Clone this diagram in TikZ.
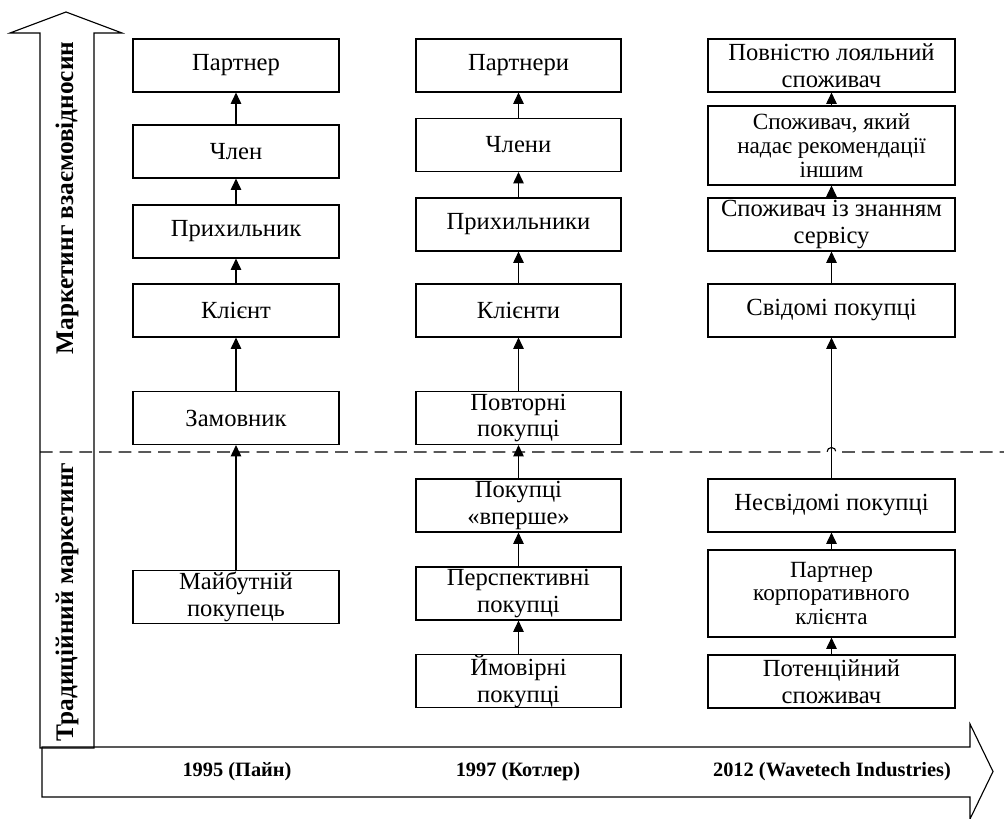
\documentclass[tikz,border=0pt]{standalone}
\usepackage{fontspec}
\setmainfont{Liberation Serif}
\usetikzlibrary{arrows.meta}

\begin{document}
\begin{tikzpicture}[x=0.25mm, y=-0.25mm, line width=0.8pt,
	box/.style={draw, rectangle, align=center, inner sep=0pt, minimum height=13.25mm, font=\fontsize{17.5}{19}\selectfont},
	colA/.style={box, minimum width=51.5mm},
	colB/.style={box, minimum width=51.25mm},
	colC/.style={box, minimum width=61.75mm},
	tall/.style={minimum height=#1mm, font=\fontsize{16.5}{17}\selectfont},
	arr/.style={-{Triangle[length=2.8mm,width=2.6mm]}},
	side/.style={rotate=90, font=\fontsize{18}{20}\selectfont\bfseries},
	year/.style={font=\fontsize{14.5}{16}\selectfont\bfseries}]
	\useasboundingbox (0,0) rectangle (1004,819);
	% time axis and the two stages
	\draw (42,747) -- (970,747) -- (970,724) -- (993,771.5) -- (970,819) -- (970,797) -- (42,797) -- cycle;
	\draw (40,748) -- (40,33) -- (10,33) -- (66,12) -- (122,33) -- (94,33) -- (94,748) -- cycle;
	\draw[dash pattern=on 9pt off 5pt] (40,452) -- (827,452) arc[start angle=180, end angle=360, radius=4.5] -- (1004,452);
	\node[side] (rel) at (67,198) {Маркетинг взаємовідносин};
	\node[side] (trad) at (67,602) {Традиційний маркетинг};
	\node[year] (y1) at (237,772) {1995 (Пайн)};
	\node[year] (y2) at (518,772) {1997 (Котлер)};
	\node[year] (y3) at (832,772) {2012 (Wavetech Industries)};

	\node[colA] (a1) at (236,597) {Майбутній\\покупець};
	\node[colA] (a2) at (236,418) {Замовник};
	\node[colA] (a3) at (236,310.5) {Клієнт};
	\node[colA] (a4) at (236,231.5) {Прихильник};
	\node[colA] (a5) at (236,151.5) {Член};
	\node[colA] (a6) at (236,65.5) {Партнер};
	\foreach \i/\j in {a1/a2, a2/a3, a3/a4, a4/a5, a5/a6}
		\draw[arr] (\i) -- (\j);

	\node[colB] (b1) at (518.5,681) {Ймовірні\\покупці};
	\node[colB] (b2) at (518.5,593.5) {Перспективні\\покупці};
	\node[colB] (b3) at (518.5,505.5) {Покупці\\«вперше»};
	\node[colB] (b4) at (518.5,418) {Повторні\\покупці};
	\node[colB] (b5) at (518.5,310.5) {Клієнти};
	\node[colB] (b6) at (518.5,224.5) {Прихильники};
	\node[colB] (b7) at (518.5,145) {Члени};
	\node[colB] (b8) at (518.5,65.5) {Партнери};
	\foreach \i/\j in {b1/b2, b2/b3, b3/b4, b4/b5, b5/b6, b6/b7, b7/b8}
		\draw[arr] (\i) -- (\j);

	\node[colC] (c1) at (831.5,681.5) {Потенційний\\споживач};
	\node[colC, tall=21.75] (c2) at (831.5,593.5) {Партнер\\корпоративного\\клієнта};
	\node[colC] (c3) at (831.5,505.5) {Несвідомі покупці};
	\node[colC] (c4) at (831.5,310.5) {Свідомі покупці};
	\node[colC] (c5) at (831.5,224.5) {Споживач із знанням\\сервісу};
	\node[colC, tall=19.75] (c6) at (831.5,145.5) {Споживач, який\\надає рекомендації\\іншим};
	\node[colC] (c7) at (831.5,65.5) {Повністю лояльний\\споживач};
	\foreach \i/\j in {c1/c2, c2/c3, c3/c4, c4/c5, c5/c6, c6/c7}
		\draw[arr] (\i) -- (\j);
\end{tikzpicture}
\end{document}
